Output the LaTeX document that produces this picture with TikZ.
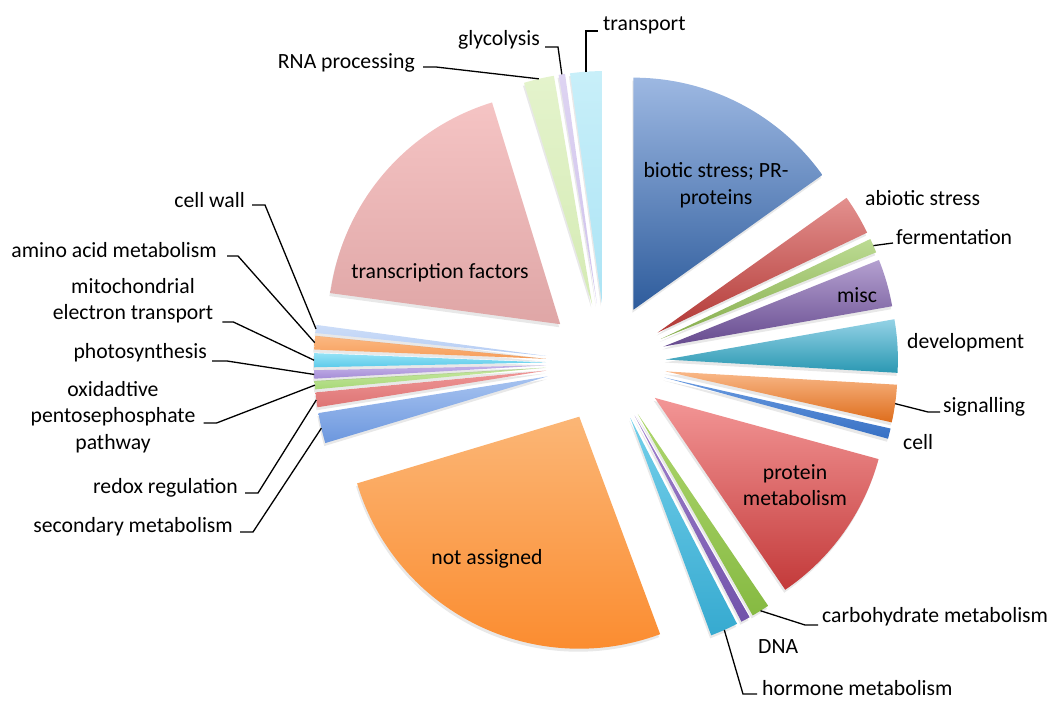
\documentclass[tikz,border=0pt]{standalone}
\usepackage{fontspec}
\setmainfont{Carlito}
\usepackage{xcolor}
\usepackage{tikz}
\usetikzlibrary{calc,shadows}

\definecolor{bioT}{HTML}{9DB8E2}   \definecolor{bioB}{HTML}{2E5C9C}
\definecolor{abioT}{HTML}{E3908E}  \definecolor{abioB}{HTML}{B23835}
\definecolor{fermT}{HTML}{BCDB93}  \definecolor{fermB}{HTML}{86AD4C}
\definecolor{miscT}{HTML}{B4A0D0}  \definecolor{miscB}{HTML}{65498E}
\definecolor{devT}{HTML}{94D2E6}   \definecolor{devB}{HTML}{2A98B2}
\definecolor{sigT}{HTML}{F9B888}   \definecolor{sigB}{HTML}{DE6D1C}
\definecolor{cellT}{HTML}{6A9BE0}  \definecolor{cellB}{HTML}{3770C4}
\definecolor{protT}{HTML}{F39696}  \definecolor{protB}{HTML}{C33A3A}
\definecolor{carbT}{HTML}{AED66E}  \definecolor{carbB}{HTML}{86BA42}
\definecolor{dnaT}{HTML}{A182CE}   \definecolor{dnaB}{HTML}{7152AA}
\definecolor{hormT}{HTML}{74CFEA}  \definecolor{hormB}{HTML}{36AAD0}
\definecolor{nassT}{HTML}{FBB676}  \definecolor{nassB}{HTML}{FB8A2C}
\definecolor{secT}{HTML}{A7C3F0}   \definecolor{secB}{HTML}{6C97DE}
\definecolor{redoxT}{HTML}{EE9696} \definecolor{redoxB}{HTML}{DE7474}
\definecolor{oppT}{HTML}{C6E8A0}   \definecolor{oppB}{HTML}{A8D878}
\definecolor{photT}{HTML}{C4B2E8}  \definecolor{photB}{HTML}{A48CD6}
\definecolor{mitoT}{HTML}{96E2F6}  \definecolor{mitoB}{HTML}{5CCBEA}
\definecolor{aminoT}{HTML}{FBB882} \definecolor{aminoB}{HTML}{F79E5A}
\definecolor{cwT}{HTML}{CCDDF8}    \definecolor{cwB}{HTML}{B6CDF4}
\definecolor{tfT}{HTML}{F5C4C4}    \definecolor{tfB}{HTML}{DFA6A6}
\definecolor{rnaT}{HTML}{E4F3CC}   \definecolor{rnaB}{HTML}{D5EBB4}
\definecolor{glycT}{HTML}{DED4F2}  \definecolor{glycB}{HTML}{CFC2EC}
\definecolor{trT}{HTML}{C8EFF9}    \definecolor{trB}{HTML}{ACE4F5}

% #1 name, #2 start angle, #3 end angle, #4 top colour, #5 bottom colour
\newcommand{\pieslice}[5]{%
  \pgfmathsetmacro{\midang}{(#2+#3)/2}
  \path[slice, top color=#4, bottom color=#5]
    ($(ctr)+(\midang:60)$) -- ++(#2:232)
    arc[start angle=#2, end angle=#3, radius=232] -- cycle;
  \coordinate (#1) at ($(ctr)+(\midang:292)$);
}

\begin{document}
\begin{tikzpicture}[
    x=1pt, y=1pt,
    every node/.style = {font=\fontsize{21.7}{26.5}\selectfont, inner sep=0pt},
    slice/.style = {drop shadow={shadow xshift=-1pt, shadow yshift=-3pt, opacity=0.18}},
    leader/.style = {draw, line width=1.3pt}
  ]
  \useasboundingbox (0,0) rectangle (1052,702);
  \coordinate (ctr) at (606,339);

  % slices, clockwise from the top
  \pieslice{s-bio}{90}{35.5}{bioT}{bioB}
  \pieslice{s-abio}{35.5}{25.5}{abioT}{abioB}
  \pieslice{s-ferm}{25.5}{21.9}{fermT}{fermB}
  \pieslice{s-misc}{21.9}{10}{miscT}{miscB}
  \pieslice{s-dev}{10}{-3.3}{devT}{devB}
  \pieslice{s-sign}{-3.3}{-12.7}{sigT}{sigB}
  \pieslice{s-cell}{-12.7}{-15.3}{cellT}{cellB}
  \pieslice{s-prot}{-15.3}{-55.8}{protT}{protB}
  \pieslice{s-carb}{-55.8}{-60.3}{carbT}{carbB}
  \pieslice{s-dna}{-60.3}{-62.6}{dnaT}{dnaB}
  \pieslice{s-horm}{-62.6}{-69.6}{hormT}{hormB}
  \pieslice{s-nass}{-69.6}{-163.3}{nassT}{nassB}
  \pieslice{s-sec}{196.7}{189.1}{secT}{secB}
  \pieslice{s-redox}{189.1}{185.4}{redoxT}{redoxB}
  \pieslice{s-opp}{185.4}{183.3}{oppT}{oppB}
  \pieslice{s-phot}{183.3}{181.2}{photT}{photB}
  \pieslice{s-mito}{181.2}{177.7}{mitoT}{mitoB}
  \pieslice{s-amino}{177.7}{174.3}{aminoT}{aminoB}
  \pieslice{s-cw}{174.3}{172.3}{cwT}{cwB}
  \pieslice{s-tf}{172.3}{107.1}{tfT}{tfB}
  \pieslice{s-rna}{107.1}{99.5}{rnaT}{rnaB}
  \pieslice{s-glyc}{99.5}{97.9}{glycT}{glycB}
  \pieslice{s-tr}{97.9}{90}{trT}{trB}

  % labels inside the slices
  \node[align=center] (l-bio) at (716,517) {biotic stress; PR-\\proteins};
  \node (l-misc) at (857,407) {misc};
  \node[align=center] (l-prot) at (795,217) {protein\\metabolism};
  \node (l-nass) at (487,143) {not assigned};
  \node (l-tf) at (440,429) {transcription factors};

  % labels outside
  \node[anchor=west] (l-tr) at (603,677) {transport};
  \node[anchor=east] (l-glyc) at (540,662) {glycolysis};
  \node[anchor=east] (l-rna) at (415,639) {RNA processing};
  \node[anchor=west] (l-abio) at (865,504) {abiotic stress};
  \node[anchor=west] (l-ferm) at (896,465) {fermentation};
  \node[anchor=west] (l-dev) at (907,359) {development};
  \node[anchor=west] (l-sign) at (943,295) {signalling};
  \node[anchor=west] (l-cell) at (903,260) {cell};
  \node[anchor=west] (l-carb) at (822,85) {carbohydrate metabolism};
  \node[anchor=west] (l-dna) at (758,55) {DNA};
  \node[anchor=west] (l-horm) at (762,14) {hormone metabolism};
  \node[anchor=east] (l-cw) at (245,502) {cell wall};
  \node[anchor=east] (l-amino) at (217,452) {amino acid metabolism};
  \node[align=center] (l-mito) at (133,401.5) {mitochondrial\\electron transport};
  \node[anchor=east] (l-phot) at (207,349) {photosynthesis};
  \node[align=center] (l-opp) at (113,285) {oxidadtive\\pentosephosphate\\pathway};
  \node[anchor=east] (l-redox) at (238,214) {redox regulation};
  \node[anchor=east] (l-sec) at (233,175) {secondary metabolism};

  % leader lines
  \draw[leader] (s-tr) |- ($(l-tr.west)+(-5,-6)$);
  \draw[leader] (l-glyc.east) ++(5,-7) -- ++(13,0) -- (s-glyc);
  \draw[leader] (l-rna.east) ++(8,-4) -- ++(13,0) -- (s-rna);
  \draw[leader] (s-ferm) -- ($(l-ferm.west)+(-3,-6)$);
  \draw[leader] (s-sign) -- ($(l-sign.west)+(-15,-5)$) -- ($(l-sign.west)+(-3,-5)$);
  \draw[leader] (s-carb) -- ($(l-carb.west)+(-17,-8)$) -- ($(l-carb.west)+(-4,-8)$);
  \draw[leader] (s-horm) -- ($(l-horm.west)+(-19,-6)$) -- ($(l-horm.west)+(-5,-6)$);
  \draw[leader] (l-cw.east) ++(7,-5) -- ++(13,0) -- (s-cw);
  \draw[leader] (l-amino.east) ++(10,-6) -- ++(11,0) -- (s-amino);
  \draw[leader] (l-mito.east) ++(9,-21.5) -- ++(11,0) -- (s-mito);
  \draw[leader] (l-phot.east) ++(5,-8) -- ++(15,0) -- (s-phot);
  \draw[leader] (l-opp.east) ++(8,-6) -- ++(13,0) -- (s-opp);
  \draw[leader] (l-redox.east) ++(7,-5) -- ++(13,0) -- (s-redox);
  \draw[leader] (l-sec.east) ++(7,-5) -- ++(13,0) -- (s-sec);
\end{tikzpicture}
\end{document}
